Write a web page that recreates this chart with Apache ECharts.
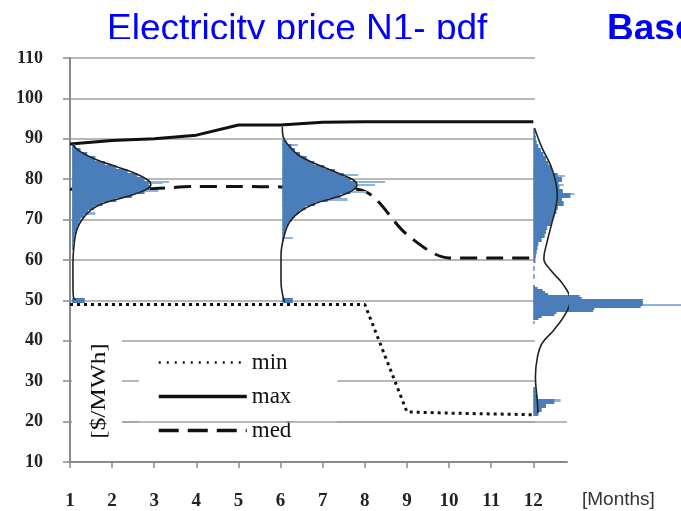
<!DOCTYPE html>
<html><head><meta charset="utf-8">
<script src="https://cdn.jsdelivr.net/npm/echarts@6/dist/echarts.min.js"></script>
<style>html,body{margin:0;padding:0;background:#fff}#c{width:681px;height:511px}</style>
</head><body><div id="c"></div>
<script>
// ---- data ----
const months = [1,2,3,4,5,6,7,8,9,10,11,12];
const maxPrice = [88.7, 89.6, 90.0, 90.9, 93.4, 93.4, 94.1, 94.2, 94.2, 94.2, 94.2, 94.2];
const medPrice = [77.5, 77.6, 77.7, 78.2, 78.2, 78.1, 78.0, 77.0, 66.3, 60.5, 60.5, 60.5];
const minPrice = [49.0, 49.0, 49.0, 49.0, 49.0, 49.0, 49.0, 49.0, 22.4, 22.1, 21.9, 21.7];
const seriesNames = ['min', 'max', 'med'];

// histogram bases (month) and bins: [price bin centre, bar length in months]
const histMonths = [1.05, 6.04, 12.0];
const hist1 = [[88,0.08],[87,0.2],[86,0.36],[85,0.55],[84,0.78],[83,1.05],[82,1.32],[81,1.55],[80,1.72],[79,1.82],[78,1.85],[77,1.72],[76,1.42],[75,1.05],[74,0.72],[73,0.52],[72,0.38],[71,0.28],[70,0.2],[69,0.16],[68,0.12],[67,0.09],[66,0.06],[65,0.05],[64,0.03],[63,0.02],[50,0.3]];
const hist1Spikes = [[84.3,0.55],[79.4,2.3],[79.0,2.15],[77.0,2.05],[74.6,1.0],[71.5,0.55]];
const hist6 = [[89,0.1],[88,0.22],[87,0.3],[86,0.42],[85,0.58],[84,0.76],[83,1.0],[82,1.25],[81,1.46],[80,1.62],[79,1.74],[78,1.74],[77,1.62],[76,1.38],[75,1.08],[74,0.78],[73,0.55],[72,0.4],[71,0.3],[70,0.22],[69,0.15],[68,0.1],[67,0.07],[66,0.05],[65,0.03],[64,0.02],[50,0.25]];
const hist6Spikes = [[88.5,0.37],[81.0,1.8],[79.4,2.44],[78.6,2.2],[76.9,2.0],[75.0,1.55],[65.5,0.25]];
const hist12Upper = [[92,0.04],[91,0.05],[90,0.06],[89,0.08],[88,0.12],[87,0.18],[86,0.24],[85,0.3],[84,0.36],[83,0.42],[82,0.45],[81,0.58],[80,0.68],[79,0.6],[78,0.62],[77,0.7],[76,0.88],[75,0.68],[74,0.72],[73,0.58],[72,0.55],[71,0.5],[70,0.45],[69,0.42],[68,0.33],[67,0.3],[66,0.27],[65,0.2],[64,0.12],[63,0.1],[62,0.08],[61,0.06],[60,0.05],[58,0.03],[56,0.03]];
const hist12Lower = [[53.5,0.04],[53,0.1],[52.5,0.22],[52,0.28],[51.5,0.35],[51,1.1],[50.5,1.15],[50,2.6],[49.5,2.6],[49,2.6],[48.5,2.55],[48,1.45],[47.5,1.42],[47,0.55],[46.5,0.5],[46,0.2],[45.5,0.12],[44.5,0.03]];
const hist12Bottom = [[28,0.05],[27,0.06],[26,0.1],[25,0.5],[24,0.3],[23,0.2],[22,0.12]];
const hist12Spikes = [[80.8,0.75],[78.6,0.72],[76.3,0.98],[48.9,3.7],[25.2,0.65]];

// fitted pdf curves: [price, width in months from base]
const curve1 = [[88.9,0],[87.2,0.14],[84.8,0.58],[83.1,1.06],[81.5,1.49],[79.8,1.8],[78.6,1.87],[77.3,1.73],[75.7,1.3],[74.0,0.73],[72.4,0.45],[69.9,0.23],[67.4,0.11],[64.1,0.05],[59.2,0.02],[54,0.02],[50.9,0.03],[50.1,0.08]];
const curve6 = [[93.0,0],[90.5,0.02],[88.5,0.14],[86,0.38],[83.5,0.86],[81.5,1.33],[79.8,1.69],[78.6,1.77],[77.3,1.68],[75.7,1.33],[74.0,0.78],[72.0,0.42],[69.5,0.18],[66.2,0.05],[61.2,-0.03],[54.6,-0.03],[49.6,0.05]];
const curve12 = [[92.6,0.03],[87.7,0.21],[83.5,0.41],[79.4,0.53],[76.1,0.57],[72.8,0.53],[69.5,0.45],[64.6,0.33],[60.4,0.25],[57.5,0.41],[54.2,0.69],[50.1,0.88],[46.8,0.77],[42.7,0.49],[39.4,0.21],[36.1,0.10],[31.1,0.05],[24.5,0.1],[22.1,0.11]];

// ---- chart ----
const BLUE = '#4a7ebb', LIGHT = '#8fb2de', GRID = '#a0a0a0', AX = '#8a8a8a';
const serif = 'Liberation Serif';

function histSeries(bins, base, binH, color) {
  return {
    type: 'custom', xAxisIndex: 1, yAxisIndex: 1, clip: false, silent: true, z: 3,
    data: bins.map(b => [b[0], b[1], binH, base]),
    renderItem: function (params, api) {
      const c = api.value(0), len = api.value(1), h = api.value(2), b = api.value(3);
      const p1 = api.coord([b, c + h / 2]);
      const p2 = api.coord([b + len, c - h / 2]);
      const y1 = Math.floor(p1[1]), y2 = Math.max(Math.ceil(p2[1]), y1 + 1);
      return { type: 'rect', shape: { x: p1[0], y: y1, width: p2[0] - p1[0], height: y2 - y1 }, style: { fill: color } };
    }
  };
}
function curveSeries(curve, base) {
  return {
    type: 'line', xAxisIndex: 1, yAxisIndex: 1, symbol: 'none', smooth: 0.4, silent: true, z: 4,
    data: curve.map(p => [base + p[1], p[0]]),
    lineStyle: { color: '#222', width: 1.6 }
  };
}
function lineData(vals) { return months.map((m, i) => [m, vals[i]]); }
const hiddenSymbol = { opacity: 0, color: 'transparent', borderWidth: 0 };

const option = {
  animation: false,
  title: [
    { text: 'Electricity price N1- pdf', left: 107, top: 11, padding: 0,
      textStyle: { color: '#0000ff', fontSize: 37, fontWeight: 'normal', fontFamily: 'Liberation Sans' } },
    { text: 'Base', left: 607, top: 11, padding: 0,
      textStyle: { color: '#0000ff', fontSize: 37, fontWeight: 'bold', fontFamily: 'Liberation Sans' } }
  ],
  grid: [
    { left: 70, top: 58, width: 465, height: 404 },
    { left: 70, top: 58, width: 497, height: 404 }
  ],
  xAxis: [
    { gridIndex: 0, type: 'value', min: 1, max: 12.04, show: false },
    { gridIndex: 1, type: 'value', min: 1, max: 12.8, interval: 1,
      axisLine: { show: true, lineStyle: { color: AX, width: 2 } },
      axisTick: { show: true, length: 6, customValues: months, lineStyle: { color: AX, width: 1.5 } },
      axisLabel: { customValues: months, margin: 30, fontFamily: serif, fontWeight: 'bold', fontSize: 19, color: '#222' },
      splitLine: { show: false } }
  ],
  yAxis: [
    { gridIndex: 0, type: 'value', min: 10, max: 110, interval: 10,
      axisLine: { show: true, lineStyle: { color: AX, width: 2 } },
      axisTick: { show: true, length: 7, lineStyle: { color: AX, width: 1.5 } },
      axisLabel: { margin: 27, fontFamily: serif, fontWeight: 'bold', fontSize: 18, color: '#222' },
      splitLine: { show: true, lineStyle: { color: GRID, width: 1.5 } } },
    { gridIndex: 1, type: 'value', min: 10, max: 110, show: false }
  ],
  legend: {
    data: [
      { name: 'min', itemStyle: hiddenSymbol, lineStyle: { type: [2, 6], width: 2.5, color: '#111' } },
      { name: 'max', itemStyle: hiddenSymbol, lineStyle: { type: 'solid', width: 3.5, color: '#111' } },
      { name: 'med', itemStyle: hiddenSymbol, lineStyle: { type: [20, 9], width: 3.5, color: '#111' } }
    ],
    orient: 'vertical', left: 139, top: 345, itemWidth: 88, itemHeight: 20, itemGap: 11,
    padding: [6, 46, 12, 18], backgroundColor: '#fff', selectedMode: false,
    textStyle: { fontFamily: serif, fontSize: 23, color: '#111' }
  },
  graphic: [
    { type: 'rect', z: 100, shape: { x: 0, y: 39, width: 681, height: 12 }, style: { fill: '#fff' } },
    { type: 'rect', z: 10, shape: { x: 72, y: 333, width: 50, height: 122 }, style: { fill: '#fff' } },
    { type: 'text', z: 11, x: 99, y: 391, rotation: Math.PI / 2, scaleX: 1.15,
      style: { text: '[$/MWh]', font: '22px "Liberation Serif"', fill: '#111', align: 'center', verticalAlign: 'middle' } },
    { type: 'text', z: 11, x: 582, y: 500,
      style: { text: '[Months]', font: '19px "Liberation Sans"', fill: '#333', align: 'left', verticalAlign: 'middle' } }
  ],
  series: [
    { name: seriesNames[0], type: 'line', xAxisIndex: 1, yAxisIndex: 1, symbol: 'none', z: 2,
      data: lineData(minPrice), lineStyle: { color: '#111', width: 3, type: [3, 4] },
      markLine: { silent: true, symbol: 'none', label: { show: false }, lineStyle: { color: GRID, width: 1.5, type: 'solid' },
        data: [{ yAxis: 20 }] } },
    { name: seriesNames[1], type: 'line', xAxisIndex: 1, yAxisIndex: 1, symbol: 'none', z: 2,
      data: lineData(maxPrice), lineStyle: { color: '#111', width: 3 } },
    { name: seriesNames[2], type: 'line', xAxisIndex: 1, yAxisIndex: 1, symbol: 'none', z: 2, smooth: 0.3,
      data: lineData(medPrice), lineStyle: { color: '#111', width: 3, type: [17, 9] } },
    histSeries(hist1Spikes, histMonths[0], 0.3, LIGHT),
    histSeries(hist6Spikes, histMonths[1], 0.3, LIGHT),
    histSeries(hist12Spikes, histMonths[2], 0.3, LIGHT),
    histSeries(hist1, histMonths[0], 1, BLUE),
    histSeries(hist6, histMonths[1], 1, BLUE),
    histSeries(hist12Upper, histMonths[2], 1, BLUE),
    histSeries(hist12Lower, histMonths[2], 0.5, BLUE),
    histSeries(hist12Bottom, histMonths[2], 1, BLUE),
    curveSeries(curve1, histMonths[0]),
    curveSeries(curve6, histMonths[1]),
    curveSeries(curve12, histMonths[2])
  ]
};
echarts.init(document.getElementById('c'), null, { renderer: 'canvas' }).setOption(option);
</script></body></html>
